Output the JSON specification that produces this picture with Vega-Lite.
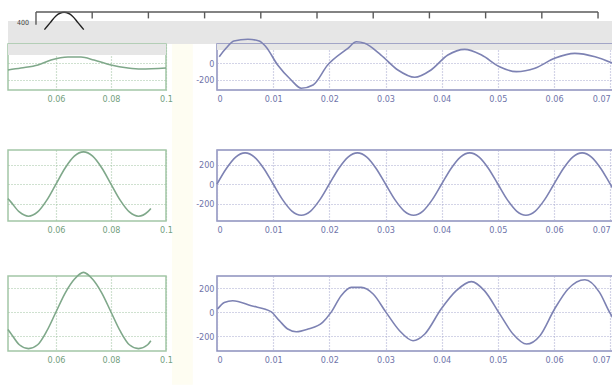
{
  "$schema": "https://vega.github.io/schema/vega-lite/v6.json",
  "background": "#ffffff",
  "padding": {"left": 3, "top": 9, "right": 0, "bottom": 0},
  "columns": 2,
  "spacing": {"row": 0, "column": 51},
  "bounds": "flush",
  "config": {
    "axis": {"labelFont": "Liberation Sans Narrow, DejaVu Sans Condensed, sans-serif", "labelFontSize": 9, "ticks": false, "domain": false, "grid": true, "gridDash": [1, 2], "gridWidth": 1.2, "labelPadding": 4},
    "line": {"clip": true, "interpolate": "monotone", "strokeWidth": 1.6}
  },
  "datasets": {
    "empty": [],
    "strip_noise": [{"x1": -0.00498, "x2": 0.10267, "y1": 0, "y2": 0.72}],
    "cream": [{"x1": 0.0242, "x2": 0.0279, "y1": -10.65, "y2": 0}],
    "strip_frame": [
      {"x": 0, "x2": 0.1, "y": 1, "y2": 1},
      {"x": 0, "x2": 0, "y": 1, "y2": 0.6},
      {"x": 0.01, "x2": 0.01, "y": 1, "y2": 0.8},
      {"x": 0.02, "x2": 0.02, "y": 1, "y2": 0.8},
      {"x": 0.03, "x2": 0.03, "y": 1, "y2": 0.8},
      {"x": 0.04, "x2": 0.04, "y": 1, "y2": 0.8},
      {"x": 0.05, "x2": 0.05, "y": 1, "y2": 0.8},
      {"x": 0.06, "x2": 0.06, "y": 1, "y2": 0.8},
      {"x": 0.07, "x2": 0.07, "y": 1, "y2": 0.8},
      {"x": 0.08, "x2": 0.08, "y": 1, "y2": 0.8},
      {"x": 0.09, "x2": 0.09, "y": 1, "y2": 0.8},
      {"x": 0.1, "x2": 0.1, "y": 1, "y2": 0.8}
    ],
    "strip_curve": [
      {"t": 0.0015, "v": 0.45}, {"t": 0.0025, "v": 0.66}, {"t": 0.0035, "v": 0.87}, {"t": 0.005, "v": 0.99},
      {"t": 0.0065, "v": 0.87}, {"t": 0.0075, "v": 0.66}, {"t": 0.0085, "v": 0.45}
    ],
    "strip_label": [{"t": -0.00125, "v": 0.66, "label": "400"}],
    "n1r": [{"x1": 0, "x2": 0.0705, "y1": 153, "y2": 224}],
    "n1l": [{"x1": 0.04255, "x2": 0.1, "y1": 94, "y2": 224}],
    "r1": [
      {"t": 0.0004, "v": 74}, {"t": 0.0016, "v": 173}, {"t": 0.003, "v": 260}, {"t": 0.0055, "v": 280},
      {"t": 0.0075, "v": 260}, {"t": 0.0087, "v": 192}, {"t": 0.0108, "v": -24}, {"t": 0.0132, "v": -200},
      {"t": 0.015, "v": -298}, {"t": 0.0171, "v": -259}, {"t": 0.0197, "v": -24}, {"t": 0.0233, "v": 173},
      {"t": 0.0248, "v": 250}, {"t": 0.0263, "v": 232}, {"t": 0.0292, "v": 94}, {"t": 0.0322, "v": -82},
      {"t": 0.0352, "v": -168}, {"t": 0.0381, "v": -82}, {"t": 0.0411, "v": 94}, {"t": 0.0441, "v": 161},
      {"t": 0.0471, "v": 94}, {"t": 0.0503, "v": -44}, {"t": 0.0533, "v": -102}, {"t": 0.0566, "v": -62},
      {"t": 0.0601, "v": 55}, {"t": 0.0637, "v": 114}, {"t": 0.0673, "v": 74}, {"t": 0.0705, "v": -4}
    ],
    "l1": [
      {"t": 0.04255, "v": -82}, {"t": 0.04727, "v": -59}, {"t": 0.05345, "v": -24}, {"t": 0.05818, "v": 35},
      {"t": 0.06436, "v": 71}, {"t": 0.06909, "v": 71}, {"t": 0.07382, "v": 35}, {"t": 0.08, "v": -24},
      {"t": 0.08618, "v": -59}, {"t": 0.09091, "v": -71}, {"t": 0.1, "v": -59}
    ],
    "r2": [
      {"t": 0, "v": 0}, {"t": 0.00167, "v": 160}, {"t": 0.00333, "v": 277}, {"t": 0.005, "v": 320},
      {"t": 0.00667, "v": 277}, {"t": 0.00833, "v": 160}, {"t": 0.01, "v": 0}, {"t": 0.01167, "v": -160},
      {"t": 0.01333, "v": -277}, {"t": 0.015, "v": -320}, {"t": 0.01667, "v": -277}, {"t": 0.01833, "v": -160},
      {"t": 0.02, "v": 0}, {"t": 0.02167, "v": 160}, {"t": 0.02333, "v": 277}, {"t": 0.025, "v": 320},
      {"t": 0.02667, "v": 277}, {"t": 0.02833, "v": 160}, {"t": 0.03, "v": 0}, {"t": 0.03167, "v": -160},
      {"t": 0.03333, "v": -277}, {"t": 0.035, "v": -320}, {"t": 0.03667, "v": -277}, {"t": 0.03833, "v": -160},
      {"t": 0.04, "v": 0}, {"t": 0.04167, "v": 160}, {"t": 0.04333, "v": 277}, {"t": 0.045, "v": 320},
      {"t": 0.04667, "v": 277}, {"t": 0.04833, "v": 160}, {"t": 0.05, "v": 0}, {"t": 0.05167, "v": -160},
      {"t": 0.05333, "v": -277}, {"t": 0.055, "v": -320}, {"t": 0.05667, "v": -277}, {"t": 0.05833, "v": -160},
      {"t": 0.06, "v": 0}, {"t": 0.06167, "v": 160}, {"t": 0.06333, "v": 277}, {"t": 0.065, "v": 320},
      {"t": 0.06667, "v": 277}, {"t": 0.06833, "v": 160}, {"t": 0.07, "v": 0}, {"t": 0.07167, "v": -160}
    ],
    "l2": [
      {"t": 0.0425, "v": -150}, {"t": 0.04333, "v": -175}, {"t": 0.04667, "v": -286}, {"t": 0.05, "v": -330},
      {"t": 0.05333, "v": -286}, {"t": 0.05667, "v": -165}, {"t": 0.06, "v": 0}, {"t": 0.06333, "v": 165},
      {"t": 0.06667, "v": 286}, {"t": 0.07, "v": 330}, {"t": 0.07333, "v": 286}, {"t": 0.07667, "v": 165},
      {"t": 0.08, "v": 0}, {"t": 0.08333, "v": -165}, {"t": 0.08667, "v": -286}, {"t": 0.09, "v": -330},
      {"t": 0.09333, "v": -286}, {"t": 0.0945, "v": -250}
    ],
    "r3": [
      {"t": 0.0001, "v": 25}, {"t": 0.0013, "v": 80}, {"t": 0.0028, "v": 94}, {"t": 0.0061, "v": 52},
      {"t": 0.0096, "v": 3}, {"t": 0.0111, "v": -72}, {"t": 0.0126, "v": -142}, {"t": 0.0141, "v": -164},
      {"t": 0.0162, "v": -142}, {"t": 0.0188, "v": -86}, {"t": 0.0203, "v": -3}, {"t": 0.0221, "v": 136},
      {"t": 0.0239, "v": 205}, {"t": 0.0257, "v": 205}, {"t": 0.0278, "v": 150}, {"t": 0.0301, "v": -3},
      {"t": 0.0325, "v": -156}, {"t": 0.0349, "v": -239}, {"t": 0.037, "v": -183}, {"t": 0.0399, "v": 25},
      {"t": 0.0426, "v": 178}, {"t": 0.0453, "v": 253}, {"t": 0.0476, "v": 178}, {"t": 0.0503, "v": -14},
      {"t": 0.0527, "v": -183}, {"t": 0.0551, "v": -267}, {"t": 0.0575, "v": -197}, {"t": 0.0601, "v": 25},
      {"t": 0.0625, "v": 192}, {"t": 0.0655, "v": 269}, {"t": 0.0681, "v": 164}, {"t": 0.0699, "v": -3},
      {"t": 0.0706, "v": -58}
    ],
    "l3": [
      {"t": 0.0425, "v": -145}, {"t": 0.04333, "v": -170}, {"t": 0.04667, "v": -273}, {"t": 0.05, "v": -305},
      {"t": 0.05333, "v": -273}, {"t": 0.05667, "v": -158}, {"t": 0.06, "v": 0}, {"t": 0.06333, "v": 158},
      {"t": 0.06667, "v": 273}, {"t": 0.07, "v": 330}, {"t": 0.07333, "v": 273}, {"t": 0.07667, "v": 158},
      {"t": 0.08, "v": 0}, {"t": 0.08333, "v": -158}, {"t": 0.08667, "v": -273}, {"t": 0.09, "v": -305},
      {"t": 0.09333, "v": -273}, {"t": 0.0945, "v": -240}
    ]
  },
  "concat": [
    {
      "width": 158,
      "height": 32,
      "view": {"stroke": null},
      "layer": [
        {
          "data": {"name": "cream"},
          "mark": {"type": "rect", "color": "#fefdf2"},
          "encoding": {
            "x": {"field": "x1", "type": "quantitative", "scale": {"domain": [-0.00498, 0.023132], "nice": false, "zero": false}, "axis": null},
            "x2": {"field": "x2"},
            "y": {"field": "y1", "type": "quantitative", "scale": {"domain": [0, 1], "nice": false}, "axis": null},
            "y2": {"field": "y2"}
          }
        },
        {
          "data": {"name": "strip_noise"},
          "mark": {"type": "rect", "color": "#e6e6e6"},
          "encoding": {
            "x": {"field": "x1", "type": "quantitative"},
            "x2": {"field": "x2"},
            "y": {"field": "y1", "type": "quantitative"},
            "y2": {"field": "y2"}
          }
        },
        {
          "data": {"name": "strip_curve"},
          "mark": {"type": "line", "color": "#222222", "strokeWidth": 1.4, "clip": false},
          "encoding": {
            "x": {"field": "t", "type": "quantitative"},
            "y": {"field": "v", "type": "quantitative"}
          }
        },
        {
          "data": {"name": "strip_frame"},
          "mark": {"type": "rule", "color": "#5a5a5a", "strokeWidth": 1.4},
          "encoding": {
            "x": {"field": "x", "type": "quantitative"},
            "x2": {"field": "x2"},
            "y": {"field": "y", "type": "quantitative"},
            "y2": {"field": "y2"}
          }
        },
        {
          "data": {"name": "strip_label"},
          "mark": {"type": "text", "align": "right", "baseline": "middle", "fontSize": 7, "color": "#444444", "font": "Liberation Sans Narrow, DejaVu Sans Condensed, sans-serif"},
          "encoding": {
            "x": {"field": "t", "type": "quantitative"},
            "y": {"field": "v", "type": "quantitative"},
            "text": {"field": "label"}
          }
        }
      ]
    },
    {
      "width": 396,
      "height": 32,
      "view": {"stroke": null},
      "data": {"name": "empty"},
      "mark": {"type": "point", "opacity": 0}
    },
    {
      "width": 158,
      "height": 46,
      "view": {"stroke": "#a3c6a6", "strokeWidth": 1.5},
      "layer": [
        {
          "data": {"name": "n1l"},
          "mark": {"type": "rect", "color": "#e6e6e6"},
          "encoding": {
            "x": {"field": "x1", "type": "quantitative", "scale": {"domain": [0.04255, 0.1], "nice": false, "zero": false},
              "axis": {"values": [0.06, 0.08, 0.1], "format": ".2~f", "labelFlush": false, "labelColor": "#74a07e", "gridColor": "#9fc3a2"}, "title": null},
            "x2": {"field": "x2"},
            "y": {"field": "y1", "type": "quantitative", "scale": {"domain": [-318, 224], "nice": false},
              "axis": {"values": [-200, 0], "labels": false, "gridColor": "#9fc3a2"}, "title": null},
            "y2": {"field": "y2"}
          }
        },
        {
          "data": {"name": "l1"},
          "mark": {"type": "line", "color": "#7fa88a"},
          "encoding": {
            "x": {"field": "t", "type": "quantitative"},
            "y": {"field": "v", "type": "quantitative"}
          }
        }
      ]
    },
    {
      "width": 396,
      "height": 46,
      "view": {"stroke": "#8c90bd", "strokeWidth": 1.5},
      "layer": [
        {
          "data": {"name": "n1r"},
          "mark": {"type": "rect", "color": "#e6e6e6"},
          "encoding": {
            "x": {"field": "x1", "type": "quantitative", "scale": {"domain": [0, 0.0705], "nice": false, "zero": false},
              "axis": {"values": [0, 0.01, 0.02, 0.03, 0.04, 0.05, 0.06, 0.07], "format": ".2~f", "labelFlush": 5, "labelColor": "#6f74aa", "gridColor": "#a7aacf"}, "title": null},
            "x2": {"field": "x2"},
            "y": {"field": "y1", "type": "quantitative", "scale": {"domain": [-318, 224], "nice": false},
              "axis": {"values": [-200, 0], "labelExpr": "'' + datum.value", "labelColor": "#6f74aa", "gridColor": "#a7aacf", "labelPadding": 3}, "title": null},
            "y2": {"field": "y2"}
          }
        },
        {
          "data": {"name": "r1"},
          "mark": {"type": "line", "color": "#7d82b3"},
          "encoding": {
            "x": {"field": "t", "type": "quantitative"},
            "y": {"field": "v", "type": "quantitative"}
          }
        }
      ]
    },
    {
      "width": 158,
      "height": 60,
      "view": {"stroke": null},
      "data": {"name": "empty"},
      "mark": {"type": "point", "opacity": 0}
    },
    {
      "width": 396,
      "height": 60,
      "view": {"stroke": null},
      "data": {"name": "empty"},
      "mark": {"type": "point", "opacity": 0}
    },
    {
      "width": 158,
      "height": 71,
      "view": {"stroke": "#a3c6a6", "strokeWidth": 1.5},
      "data": {"name": "l2"},
      "mark": {"type": "line", "color": "#7fa88a"},
      "encoding": {
        "x": {"field": "t", "type": "quantitative", "scale": {"domain": [0.04255, 0.1], "nice": false, "zero": false},
          "axis": {"values": [0.06, 0.08, 0.1], "format": ".2~f", "labelFlush": false, "labelColor": "#74a07e", "gridColor": "#9fc3a2"}, "title": null},
        "y": {"field": "v", "type": "quantitative", "scale": {"domain": [-379, 349], "nice": false},
          "axis": {"values": [-200, 0, 200], "labels": false, "gridColor": "#9fc3a2"}, "title": null}
      }
    },
    {
      "width": 396,
      "height": 71,
      "view": {"stroke": "#8c90bd", "strokeWidth": 1.5},
      "data": {"name": "r2"},
      "mark": {"type": "line", "color": "#7d82b3"},
      "encoding": {
        "x": {"field": "t", "type": "quantitative", "scale": {"domain": [0, 0.0705], "nice": false, "zero": false},
          "axis": {"values": [0, 0.01, 0.02, 0.03, 0.04, 0.05, 0.06, 0.07], "format": ".2~f", "labelFlush": 5, "labelColor": "#6f74aa", "gridColor": "#a7aacf"}, "title": null},
        "y": {"field": "v", "type": "quantitative", "scale": {"domain": [-379, 349], "nice": false},
          "axis": {"values": [-200, 0, 200], "labelExpr": "'' + datum.value", "labelColor": "#6f74aa", "gridColor": "#a7aacf", "labelPadding": 3}, "title": null}
      }
    },
    {
      "width": 158,
      "height": 55,
      "view": {"stroke": null},
      "data": {"name": "empty"},
      "mark": {"type": "point", "opacity": 0}
    },
    {
      "width": 396,
      "height": 55,
      "view": {"stroke": null},
      "data": {"name": "empty"},
      "mark": {"type": "point", "opacity": 0}
    },
    {
      "width": 158,
      "height": 75,
      "view": {"stroke": "#a3c6a6", "strokeWidth": 1.5},
      "data": {"name": "l3"},
      "mark": {"type": "line", "color": "#7fa88a"},
      "encoding": {
        "x": {"field": "t", "type": "quantitative", "scale": {"domain": [0.04255, 0.1], "nice": false, "zero": false},
          "axis": {"values": [0.06, 0.08, 0.1], "format": ".2~f", "labelFlush": false, "labelColor": "#74a07e", "gridColor": "#9fc3a2"}, "title": null},
        "y": {"field": "v", "type": "quantitative", "scale": {"domain": [-325, 300], "nice": false},
          "axis": {"values": [-200, 0, 200], "labels": false, "gridColor": "#9fc3a2"}, "title": null}
      }
    },
    {
      "width": 396,
      "height": 75,
      "view": {"stroke": "#8c90bd", "strokeWidth": 1.5},
      "data": {"name": "r3"},
      "mark": {"type": "line", "color": "#7d82b3"},
      "encoding": {
        "x": {"field": "t", "type": "quantitative", "scale": {"domain": [0, 0.0705], "nice": false, "zero": false},
          "axis": {"values": [0, 0.01, 0.02, 0.03, 0.04, 0.05, 0.06, 0.07], "format": ".2~f", "labelFlush": 5, "labelColor": "#6f74aa", "gridColor": "#a7aacf"}, "title": null},
        "y": {"field": "v", "type": "quantitative", "scale": {"domain": [-325, 300], "nice": false},
          "axis": {"values": [-200, 0, 200], "labelExpr": "'' + datum.value", "labelColor": "#6f74aa", "gridColor": "#a7aacf", "labelPadding": 3}, "title": null}
      }
    }
  ]
}
